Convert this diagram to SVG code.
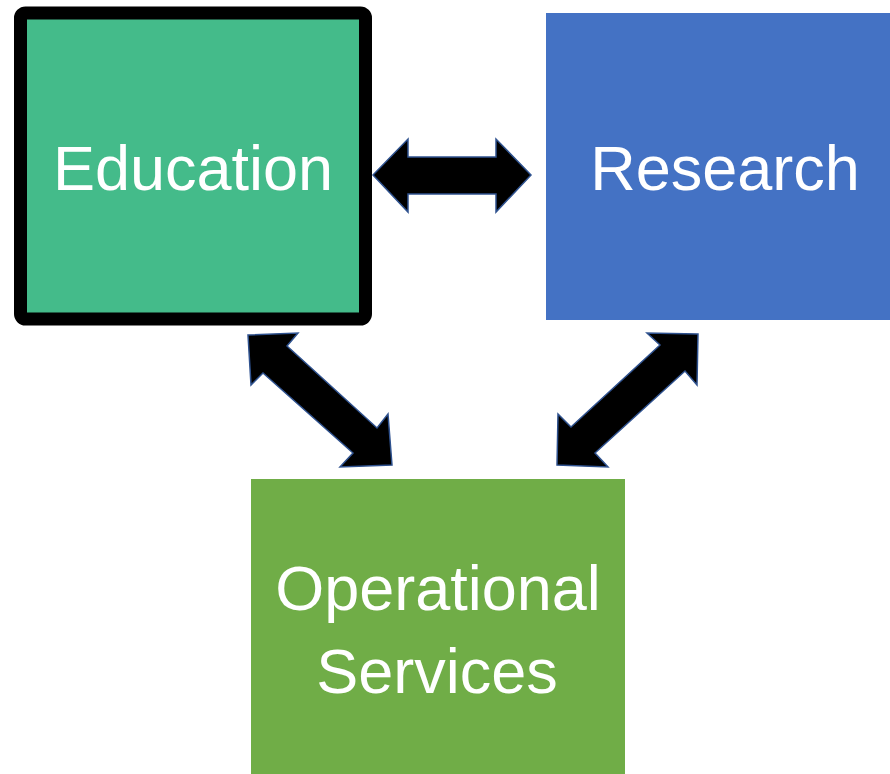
<svg xmlns="http://www.w3.org/2000/svg" width="890" height="774" viewBox="0 0 890 774">
<style>
.lbl{font-family:"Liberation Sans",Arial,sans-serif;font-size:63px;fill:#ffffff;text-anchor:middle}
.arr{fill:#000000;stroke:#2F528F;stroke-width:1.5;stroke-linejoin:miter}
</style>
<rect width="890" height="774" fill="#ffffff"/>
<g id="education">
<rect x="20.5" y="13" width="345" height="306" rx="5" fill="#44BB8A" stroke="#000000" stroke-width="13"/>
<text class="lbl" x="193" y="190">Education</text>
</g>
<g id="research">
<rect x="546" y="13" width="344" height="307" fill="#4472C4"/>
<text class="lbl" x="725" y="190">Research</text>
</g>
<g id="operational">
<rect x="251" y="479" width="374" height="295" fill="#70AD47"/>
<text class="lbl" x="438" y="610">Operational</text>
<text class="lbl" x="437" y="693">Services</text>
</g>
<g id="connectors">
<polygon class="arr" points="373,175 408,139 408,157 496,157 496,139 531,175 496,212 496,194 408,194 408,212"/>
<polygon class="arr" points="248,335 298,333 287,346 377,428 388,414 392,465 340,467 353,453 263,373 251,385"/>
<polygon class="arr" points="698,334 647,333 660,345 571,427 558,414 557,465 608,467 595,453 685,371 697,385"/>
</g>
</svg>
